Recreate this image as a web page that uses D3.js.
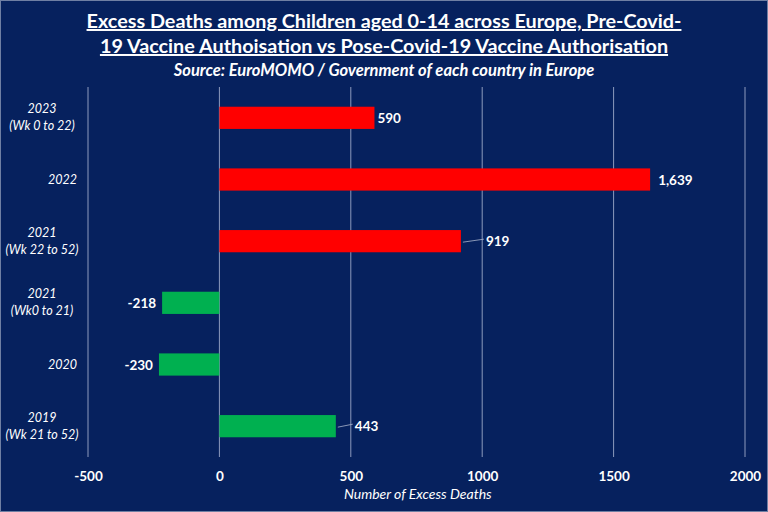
<!DOCTYPE html>
<html>
<head>
<meta charset="utf-8">
<script src="https://cdn.jsdelivr.net/npm/d3@7"></script>
<style>
  body { margin: 0; background: #06215e; }
  text { font-family: Lato, "Open Sans", sans-serif; fill: #fff; }
</style>
</head>
<body>
<div id="chart"></div>
<script>
// categories, top to bottom
const categories = [
  ["2023", "(Wk 0 to 22)"],
  ["2022"],
  ["2021", "(Wk 22 to 52)"],
  ["2021", "(Wk0 to 21)"],
  ["2020"],
  ["2019", "(Wk 21 to 52)"]
];
const excessDeaths = [590, 1639, 919, -218, -230, 443];
const barColors = ["#ff0000", "#ff0000", "#ff0000", "#00b050", "#00b050", "#00b050"];
const xTicks = [-500, 0, 500, 1000, 1500, 2000];

const width = 768, height = 512;
const margin = {top: 87, right: 23, bottom: 55, left: 88};

// plain hyphen for negatives, like the spreadsheet
const fmt = d => d3.format(",")(d).replace("\u2212", "-");
const tickFmt = d => d3.format("d")(d).replace("\u2212", "-");

const svg = d3.select("#chart").append("svg")
    .attr("width", width)
    .attr("height", height);

svg.append("rect")
    .attr("x", 0.5).attr("y", 0.5)
    .attr("width", width - 1).attr("height", height - 1)
    .attr("fill", "#06215e")
    .attr("stroke", "#6f7fa3");

// title
const title = svg.append("text")
    .attr("x", width / 2)
    .attr("text-anchor", "middle")
    .style("font-weight", "bold")
    .style("font-size", "19.8px")
    .style("text-decoration", "underline");
title.append("tspan").attr("x", width / 2).attr("y", 28)
    .text("Excess Deaths among Children aged 0-14 across Europe, Pre-Covid-");
title.append("tspan").attr("x", width / 2).attr("y", 53)
    .text("19 Vaccine Authoisation vs Pose-Covid-19 Vaccine Authorisation");

svg.append("text")
    .attr("x", width / 2).attr("y", 76)
    .attr("text-anchor", "middle")
    .style("font-weight", "bold")
    .style("font-style", "italic")
    .style("font-size", "16.5px")
    .text("Source: EuroMOMO / Government of each country in Europe");

const x = d3.scaleLinear()
    .domain([-500, 2000])
    .range([margin.left, width - margin.right]);

const y = d3.scaleBand()
    .domain(d3.range(categories.length))
    .range([margin.top, height - margin.bottom])
    .paddingInner(0.64)
    .paddingOuter(0.32);

// grid lines
svg.append("g")
    .selectAll("line")
    .data(xTicks)
    .join("line")
    .attr("x1", d => x(d)).attr("x2", d => x(d))
    .attr("y1", margin.top).attr("y2", height - margin.bottom)
    .attr("stroke", "#8d9bbd")
    .attr("stroke-width", 1);

// x axis tick labels
const xAxis = svg.append("g")
    .attr("transform", `translate(0,${height - margin.bottom})`)
    .call(d3.axisBottom(x).tickValues(xTicks).tickSize(0).tickPadding(14).tickFormat(tickFmt));
xAxis.select(".domain").remove();
xAxis.selectAll("text")
    .style("font-size", "13.5px")
    .style("font-weight", "bold")
    .style("font-family", "Lato, sans-serif")
    .attr("fill", "#fff");

svg.append("text")
    .attr("x", x(500) + 67).attr("y", 499)
    .attr("text-anchor", "middle")
    .style("font-style", "italic")
    .style("font-size", "14px")
    .text("Number of Excess Deaths");

// category labels
const labels = svg.append("g")
    .selectAll("text")
    .data(categories)
    .join("text")
    .style("font-style", "italic")
    .style("font-size", "12.5px")
    .attr("text-anchor", d => d.length > 1 ? "middle" : "end");
labels.each(function(d, i) {
    const cy = y(i) + y.bandwidth() / 2;
    const lx = d.length > 1 ? 42 : 77;
    d.forEach((line, j) => {
        d3.select(this).append("tspan")
            .attr("x", lx)
            .attr("y", cy + 4 + (j - (d.length - 1) / 2) * 17)
            .text(line);
    });
});

// bars
svg.append("g")
    .selectAll("rect")
    .data(excessDeaths)
    .join("rect")
    .attr("x", d => x(Math.min(0, d)))
    .attr("y", (d, i) => y(i))
    .attr("width", d => Math.abs(x(d) - x(0)))
    .attr("height", y.bandwidth())
    .attr("fill", (d, i) => barColors[i]);

// value labels with leader lines
const labelGap = [3, 8, 25, 6, 6, 19];
excessDeaths.forEach((d, i) => {
    const cy = y(i) + y.bandwidth() / 2;
    const end = x(d);
    if (d >= 0) {
        const lx = end + labelGap[i];
        if (labelGap[i] > 10) {
            svg.append("line")
                .attr("x1", end + 2).attr("x2", lx - 2)
                .attr("y1", cy + 1).attr("y2", cy - 2)
                .attr("stroke", "#aab4cc").attr("stroke-width", 0.8);
        }
        svg.append("text")
            .attr("x", lx).attr("y", cy + 5)
            .style("font-weight", "bold").style("font-size", "13.5px")
            .text(fmt(d));
    } else {
        svg.append("text")
            .attr("x", end - labelGap[i]).attr("y", cy + 5)
            .attr("text-anchor", "end")
            .style("font-weight", "bold").style("font-size", "13.5px")
            .text(fmt(d));
    }
});
</script>
</body>
</html>
